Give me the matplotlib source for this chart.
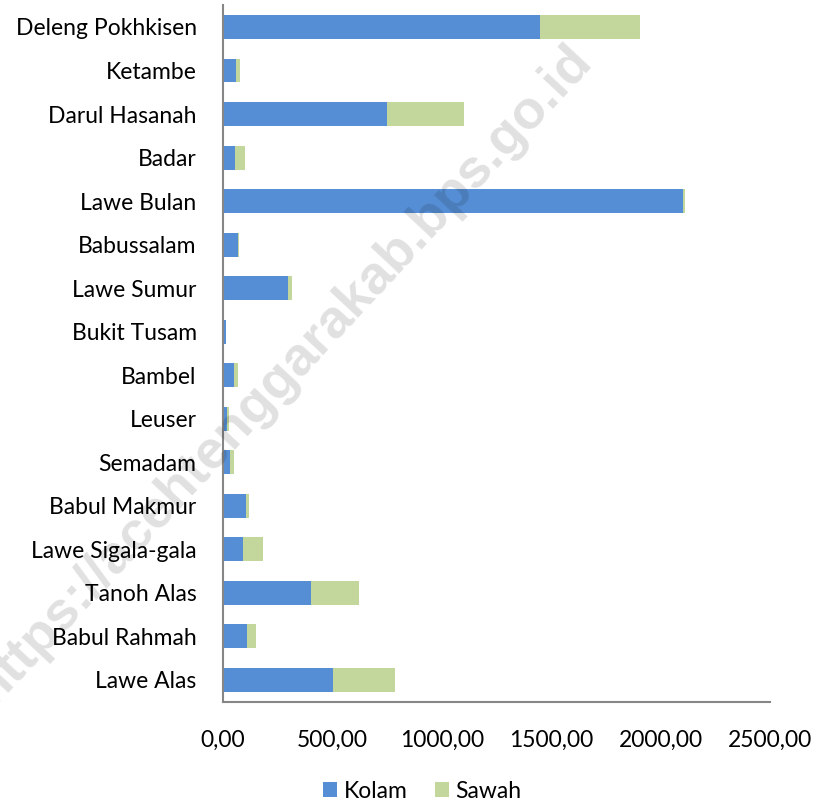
import matplotlib
matplotlib.use("Agg")
import matplotlib.pyplot as plt
from matplotlib.ticker import FuncFormatter

# kecamatan, top to bottom as in the chart
kecamatan = ["Deleng Pokhkisen", "Ketambe", "Darul Hasanah", "Badar", "Lawe Bulan",
             "Babussalam", "Lawe Sumur", "Bukit Tusam", "Bambel", "Leuser", "Semadam",
             "Babul Makmur", "Lawe Sigala-gala", "Tanoh Alas", "Babul Rahmah", "Lawe Alas"]
kolam = [1450, 61, 751, 56, 2102, 70, 299, 14, 48, 18, 34, 106, 91, 400, 111, 504]
sawah = [454, 18, 350, 44, 11, 3, 17, 1, 20, 9, 16, 11, 90, 221, 41, 283]

blue = "#558ED5"
green = "#C3D69B"

plt.rcParams['font.family'] = ['Lato', 'DejaVu Sans']

fig = plt.figure(figsize=(8.2, 8.05), dpi=100)
ax = fig.add_axes([0.272, 0.1283, 0.667, 0.8652])

pos = list(range(len(kecamatan)))
ax.barh(pos, kolam, height=0.55, color=blue, label="Kolam")
ax.barh(pos, sawah, left=kolam, height=0.55, color=green, label="Sawah")

ax.set_ylim(len(kecamatan) - 0.5, -0.5)
ax.set_xlim(0, 2500)
ax.set_xticks([0, 500, 1000, 1500, 2000, 2500])
ax.xaxis.set_major_formatter(FuncFormatter(lambda v, p: ("%.2f" % v).replace(".", ",")))
ax.set_yticks(pos)
ax.set_yticklabels(kecamatan)
ax.tick_params(axis='both', length=0, labelsize=16.5)
ax.tick_params(axis='x', pad=20)
ax.tick_params(axis='y', pad=19)

for s in ["top", "right"]:
    ax.spines[s].set_visible(False)
for s in ["left", "bottom"]:
    ax.spines[s].set_color("#868686")
    ax.spines[s].set_linewidth(1.5)

fig.legend(loc="center", bbox_to_anchor=(0.515, 0.017), ncol=2, frameon=False,
           fontsize=16.5, handlelength=0.6, handleheight=0.6, handletextpad=0.3,
           columnspacing=1.2)

# watermark
fig.text(0.345, 0.535, "https://acehtenggarakab.bps.go.id", rotation=47,
         ha="center", va="center", fontsize=39, fontweight="bold",
         family="Liberation Sans", color="black", alpha=0.12, zorder=10)

fig.savefig("out.png", dpi=100)
